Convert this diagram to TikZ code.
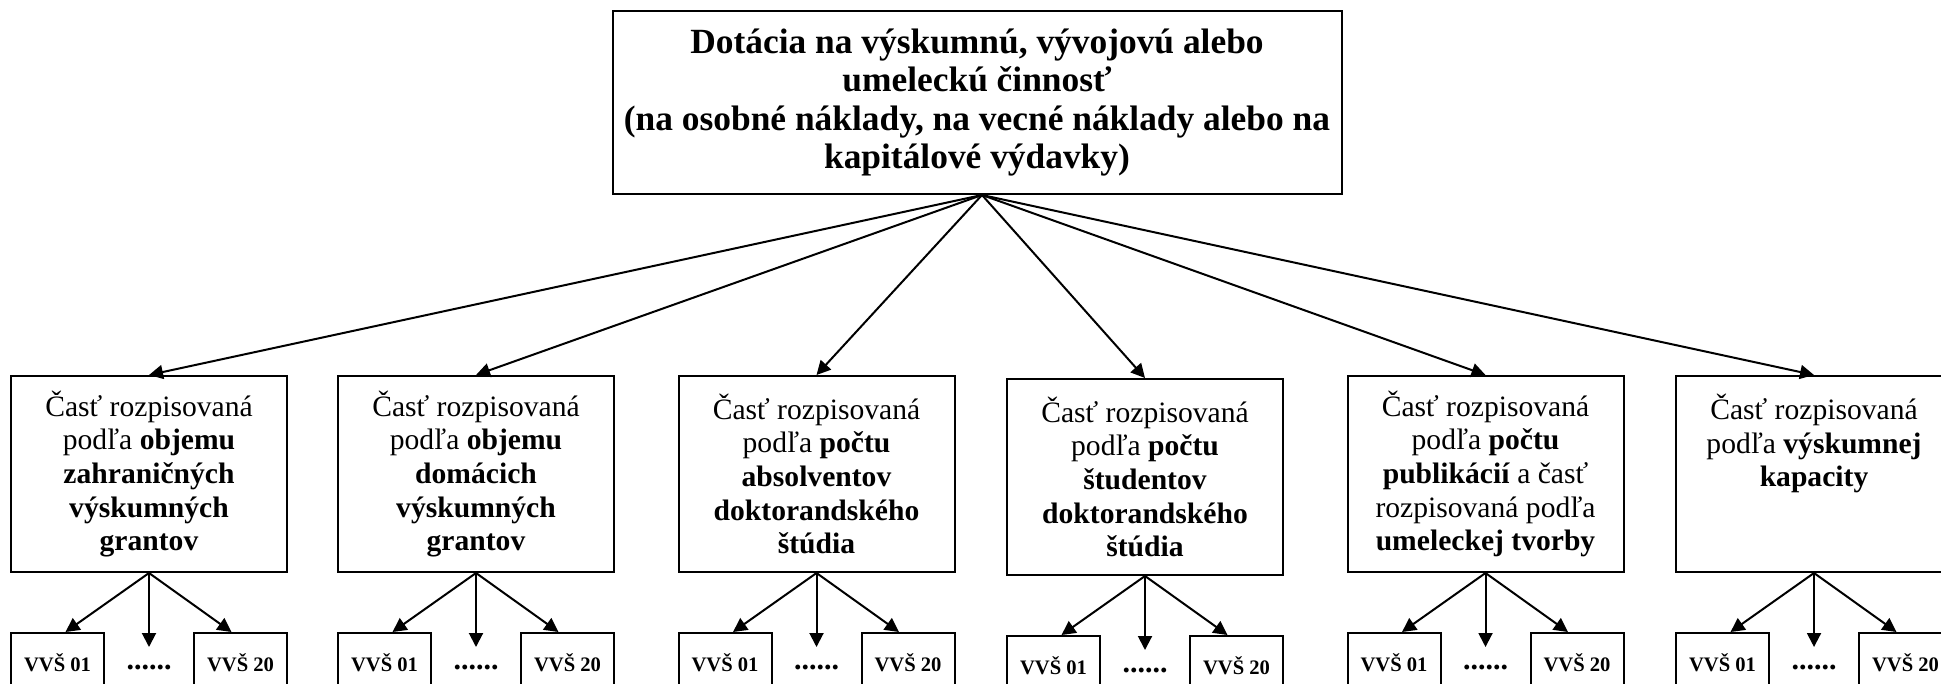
\documentclass[tikz,border=0pt]{standalone}
\usepackage{fontspec}
\setmainfont{Liberation Serif}
\usetikzlibrary{arrows.meta}
\begin{document}
\begin{tikzpicture}[x=0.5pt,y=-0.5pt,
  box/.style={draw, line width=1pt, align=center, minimum width=138pt, minimum height=98pt, inner sep=0pt, font=\fontsize{14.8pt}{16.8pt}\selectfont},
  topbox/.style={draw, line width=1pt, align=center, minimum width=364.5pt, minimum height=91.5pt, inner sep=0pt, font=\fontsize{17.7pt}{19.2pt}\selectfont\bfseries},
  vbox/.style={draw, line width=1pt, minimum width=46.5pt, minimum height=30pt, inner sep=0pt, font=\fontsize{10.3pt}{12pt}\selectfont\bfseries},
  dotsnode/.style={font=\fontsize{15pt}{16pt}\selectfont\bfseries, inner sep=0pt, anchor=base},
  arr/.style={line width=1pt, -{Triangle[length=7pt,width=7pt]}}]
\useasboundingbox (0,0) rectangle (1941,684);
\clip (0,0) rectangle (1941,684);

\node[topbox] (top) at (977,102.5) {Dotácia na výskumnú, vývojovú alebo\\umeleckú činnosť\\(na osobné náklady, na vecné náklady alebo na\\kapitálové výdavky)};
\coordinate (apex) at ([xshift=2.5pt]top.south);

\node[box] (b1) at (149,474) {Časť rozpisovaná\\podľa \textbf{objemu}\\\textbf{zahraničných}\\\textbf{výskumných}\\\textbf{grantov}};
\node[box] (b2) at (476,474) {Časť rozpisovaná\\podľa \textbf{objemu}\\\textbf{domácich}\\\textbf{výskumných}\\\textbf{grantov}};
\node[box] (b3) at (816.5,474) {Časť rozpisovaná\\podľa \textbf{počtu}\\\textbf{absolventov}\\\textbf{doktorandského}\\\textbf{štúdia}};
\node[box] (b4) at (1145,477) {Časť rozpisovaná\\podľa \textbf{počtu}\\\textbf{študentov}\\\textbf{doktorandského}\\\textbf{štúdia}};
\node[box] (b5) at (1485.5,474) {Časť rozpisovaná\\podľa \textbf{počtu}\\\textbf{publikácií} a časť\\rozpisovaná podľa\\\textbf{umeleckej tvorby}};
\node[box] (b6) at (1814,474) {Časť rozpisovaná\\podľa \textbf{výskumnej}\\\textbf{kapacity}\\\mbox{}\\\mbox{}};

\foreach \n in {1,...,6}{
  \draw[arr] (apex) -- (b\n.north);
}

\foreach \n/\c/\y in {1/149/474, 2/476/474, 3/816.5/474, 4/1145/477, 5/1485.5/474, 6/1814/474}{
  \node[vbox] (l\n) at ({\c-91.5},{\y+189}) {VVŠ 01};
  \node[vbox] (r\n) at ({\c+91.5},{\y+189}) {VVŠ 20};
  \node[dotsnode] (d\n) at ({\c},{\y+195}) {......};
  \coordinate (m\n) at ({\c},{\y+173});
  \draw[arr] (b\n.south) -- ([xshift=4pt]l\n.north);
  \draw[arr] (b\n.south) -- ([xshift=-4.5pt]r\n.north);
  \draw[arr] (b\n.south) -- (m\n);
}
\end{tikzpicture}
\end{document}
